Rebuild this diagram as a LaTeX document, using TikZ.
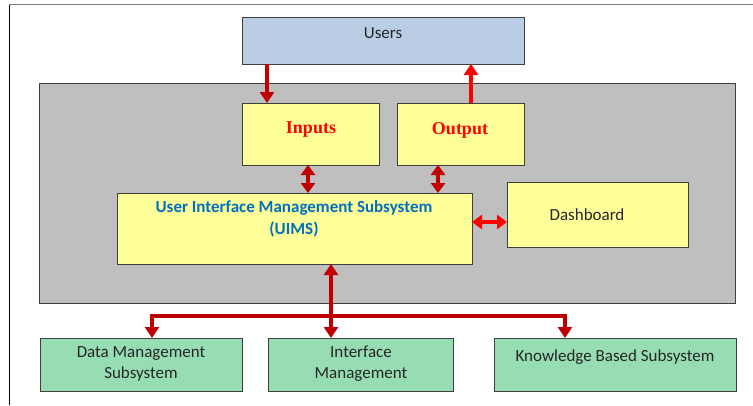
\documentclass[tikz,border=0pt]{standalone}
\usepackage{fontspec}
\setmainfont{Carlito}
\newfontfamily\headfont{Liberation Serif}
\usetikzlibrary{arrows.meta}

\definecolor{usersBlue}{HTML}{B9CDE5}
\definecolor{panelGray}{HTML}{BFBFBF}
\definecolor{boxYellow}{HTML}{FFFF99}
\definecolor{boxGreen}{HTML}{97DDB4}
\definecolor{edgeGray}{HTML}{3F3F3F}
\definecolor{darkRed}{HTML}{C00000}
\definecolor{uimsBlue}{HTML}{0070C0}

\tikzset{
    blk/.style={draw=edgeGray, line width=0.9pt, anchor=north west, inner sep=0pt, outer sep=0pt},
    lbl/.style={font=\fontsize{17}{21}\selectfont, align=center, inner sep=0pt, text=black!85},
    head/.style={font=\headfont\bfseries\fontsize{18}{22}\selectfont, inner sep=0pt, text=red},
    arr/.style={line width=4pt, -{Triangle[width=14pt,length=11pt]}},
    biarr/.style={line width=4pt, {Triangle[width=14pt,length=10pt]}-{Triangle[width=14pt,length=10pt]}},
}

\begin{document}
\begin{tikzpicture}[x=1pt, y=-1pt]
    \useasboundingbox (0,0) rectangle (753,405);

    %Frame
    \draw[gray, line width=0.8pt] (9,4.5) -- (753,4.5);
    \draw[black, line width=0.8pt] (9,4.5) -- (9,405);

    %Boxes
    \node[blk, fill=panelGray, minimum width=696, minimum height=220] (panel) at (39.5,83.5) {};
    \node[blk, fill=usersBlue, minimum width=282, minimum height=47] (users) at (242,17) {};
    \node[blk, fill=boxYellow, minimum width=137, minimum height=62] (inputs) at (242,103) {};
    \node[blk, fill=boxYellow, minimum width=127, minimum height=62] (output) at (397,103) {};
    \node[blk, fill=boxYellow, minimum width=355, minimum height=71] (uims) at (117,193) {};
    \node[blk, fill=boxYellow, minimum width=181, minimum height=65] (dash) at (507,182) {};
    \node[blk, fill=boxGreen, minimum width=202, minimum height=53] (dms) at (40,338) {};
    \node[blk, fill=boxGreen, minimum width=185, minimum height=53] (ifm) at (268,338) {};
    \node[blk, fill=boxGreen, minimum width=242, minimum height=53] (kbs) at (494,338) {};

    %Texts
    \node[lbl] (usersText) at (383,33) {Users};
    \node[head] (inputsText) at (311,130) {Inputs};
    \node[head] (outputText) at (460,130) {Output};
    \node[lbl, font=\bfseries\fontsize{17}{22}\selectfont, text=uimsBlue] (uimsText) at (294,219)
        {User Interface Management Subsystem\\(UIMS)};
    \node[lbl] (dashText) at (587,215) {Dashboard};
    \node[lbl] (dmsText) at (141,364) {Data Management\\Subsystem};
    \node[lbl] (ifmText) at (361,364) {Interface\\Management};
    \node[lbl] (kbsText) at (615,357) {Knowledge Based Subsystem};

    %Arrow positions
    \coordinate (inX) at (267,0);
    \coordinate (outX) at (471,0);
    \coordinate (inLink) at (308,0);
    \coordinate (outLink) at (438,0);
    \coordinate (dashY) at (0,222);
    \coordinate (bus) at (331,316);
    \coordinate (dmsDrop) at (152,316);
    \coordinate (kbsDrop) at (565,316);

    %Arrows
    \draw[arr, darkRed] (users.south -| inX) -- (inputs.north -| inX);
    \draw[arr, red] (output.north -| outX) -- (users.south -| outX);

    \draw[biarr, darkRed] (inputs.south -| inLink) -- (uims.north -| inLink);
    \draw[biarr, darkRed] (output.south -| outLink) -- (uims.north -| outLink);
    \draw[biarr, red] (uims.east |- dashY) -- (dash.west |- dashY);

    \draw[arr, darkRed] (bus) -- (uims.south -| bus);
    \draw[darkRed, line width=4pt, line cap=rect] (dmsDrop) -- (kbsDrop);
    \draw[arr, darkRed] (dmsDrop) -- (dms.north -| dmsDrop);
    \draw[arr, darkRed] (bus) -- (ifm.north -| bus);
    \draw[arr, darkRed] (kbsDrop) -- (kbs.north -| kbsDrop);
\end{tikzpicture}
\end{document}
